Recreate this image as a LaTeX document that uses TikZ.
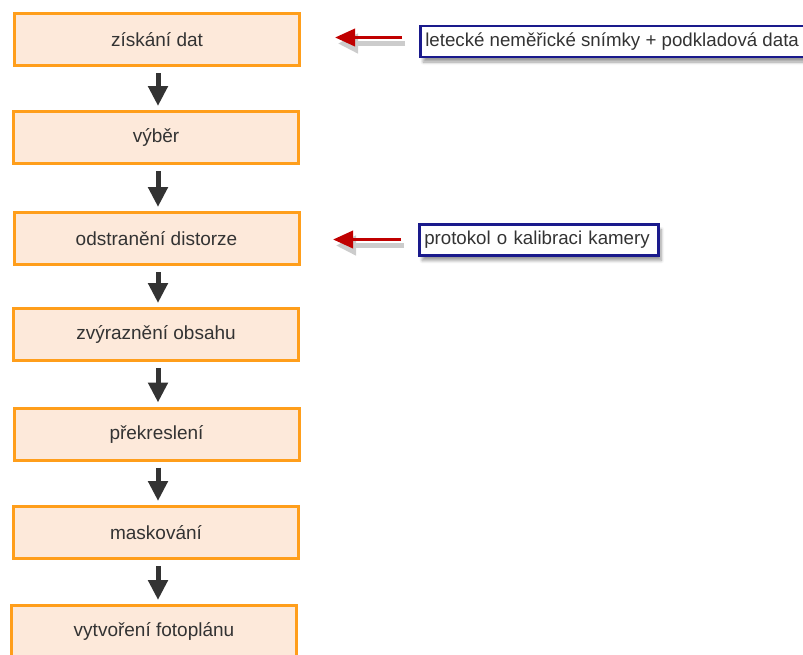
\documentclass[tikz,border=0pt]{standalone}
\usepackage{fontspec}
\setmainfont{Liberation Sans}
\usepackage{tikz}
\usetikzlibrary{arrows.meta,shadows.blur}

\definecolor{stepfill}{HTML}{FDE9DA}
\definecolor{stepline}{HTML}{FF9E1B}
\definecolor{notelinec}{HTML}{1A1A8C}
\definecolor{arrred}{HTML}{C00000}
\definecolor{txtgrey}{HTML}{333333}

\tikzset{
  stepbox/.style={draw=stepline, fill=stepfill, line width=3pt,
    minimum width=285pt, minimum height=52pt, text=txtgrey,
    font=\fontsize{19}{23}\selectfont},
  notebox/.style={draw=notelinec, fill=white, line width=2.5pt, anchor=west,
    minimum height=31pt, inner xsep=5pt, text=txtgrey,
    font=\fontsize{18.7}{22}\selectfont,
    blur shadow={shadow xshift=3pt, shadow yshift=-5pt, shadow blur steps=6, shadow blur radius=3pt}},
  flowarrow/.style={draw=txtgrey, line width=5pt,
    -{Triangle[width=19pt,length=20pt]}, shorten <=6pt, shorten >=4pt},
  redarrow/.style={draw=arrred, line width=3.6pt,
    -{Triangle[width=17pt,length=20pt]}, shorten <=17pt},
  redshadow/.style={redarrow, draw=black!20, line width=4.5pt,
    -{Triangle[width=19pt,length=20pt]}}
}

\begin{document}
\begin{tikzpicture}[x=1pt, y=-1pt]
\useasboundingbox (0, 0) rectangle (803, 654);
\clip (0, 0) rectangle (803, 654);

% kroky postupu
\node [stepbox] (data) at (157, 39.5) {získání dat};
\node [stepbox] (vyber) at (156, 137.5) {výběr};
\node [stepbox] (distorze) at (156.5, 238.5) {odstranění distorze};
\node [stepbox] (obsah) at (156, 334.5) {zvýraznění obsahu};
\node [stepbox] (prekresleni) at (156.5, 434) {překreslení};
\node [stepbox] (maskovani) at (156, 532.5) {maskování};
\node [stepbox] (fotoplan) at (154, 631.5) {vytvoření fotoplánu};

\foreach \a/\b in {data/vyber, vyber/distorze, distorze/obsah, obsah/prekresleni, prekresleni/maskovani, maskovani/fotoplan}
  \draw [flowarrow] (158, 0 |- \a.south) -- (158, 0 |- \b.north);

% vstupy
\node [notebox] (snimky) at (419, 41.5) {\makebox[390pt][l]{letecké neměřické snímky + podkladová data}};
\node [notebox, minimum width=239pt, text width=229pt] (protokol) at (418, 240) {protokol o kalibraci kamery};

\coordinate (in1) at (335, 37.5);
\coordinate (in2) at (333, 239.5);
\draw [redshadow] ([shift={(3,6)}]snimky.west |- in1) -- ([shift={(3,6)}]in1);
\draw [redshadow] ([shift={(3,6)}]protokol.west |- in2) -- ([shift={(3,6)}]in2);
\draw [redarrow] (snimky.west |- in1) -- (in1);
\draw [redarrow] (protokol.west |- in2) -- (in2);
\end{tikzpicture}
\end{document}
